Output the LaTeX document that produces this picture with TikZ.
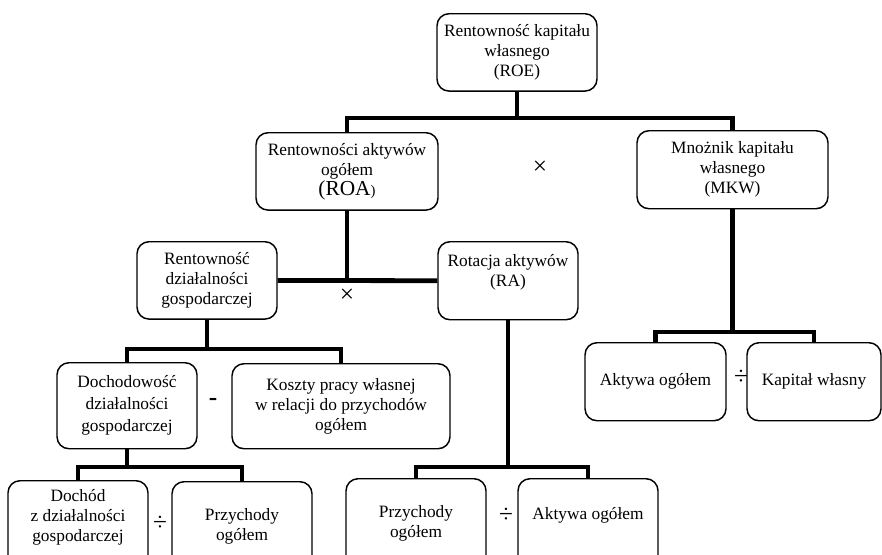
\documentclass[tikz,border=0pt]{standalone}
\usepackage{fontspec}
\setmainfont{Liberation Serif}
\usepackage{tikz}
\usetikzlibrary{calc}

\begin{document}
\begin{tikzpicture}[x=0.75pt,y=-0.75pt,
  box/.style={draw,line width=1.1pt,rounded corners=9pt,align=center,anchor=north,inner sep=2pt,
    font=\fontsize{13}{15}\selectfont,minimum width=105pt,minimum height=58pt},
  link/.style={line width=3.6pt},
  op/.style={font=\fontsize{19}{20}\selectfont,inner sep=0pt}]
\useasboundingbox (0,0) rectangle (882,554);
\clip (0,0) rectangle (882,554);
\node[box,minimum width=120pt] (roe) at (517,13) {Rentowność kapitału\\własnego\\(ROE)};
\node[box,minimum width=136.5pt] (roa) at (347,132) {Rentowności aktywów\\ogółem\\{\fontsize{16}{15}\selectfont(ROA}{\fontsize{11}{15}\selectfont)}};
\node[box,minimum width=143.25pt,minimum height=58.5pt] (mkw) at (732.5,130) {Mnożnik kapitału\\własnego\\(MKW)};
\node[box] (rd) at (207,241) {Rentowność\\działalności\\gospodarczej};
\node[box,minimum height=58.5pt] (ra) at (508,241) {Rotacja aktywów\\(RA)\\\mbox{}};
\node[box,minimum height=64.5pt,font=\fontsize{13}{16.5}\selectfont] (doch) at (127,362) {Dochodowość\\działalności\\gospodarczej};
\node[box,minimum width=163.5pt,minimum height=63.75pt] (koszty) at (341,363) {Koszty pracy własnej\\w relacji do przychodów\\ogółem};
\node[box,minimum width=105.75pt,minimum height=58.5pt] (aktmkw) at (655.5,342) {Aktywa ogółem};
\node[box,minimum width=100.5pt,minimum height=58.5pt] (kapital) at (814,342) {Kapitał własny};
\node[box,minimum height=67.5pt] (dochod) at (78,480) {Dochód\\z działalności\\gospodarczej\\\mbox{}};
\node[box,minimum height=67.5pt] (przychdoch) at (242,481) {Przychody\\ogółem};
\node[box,minimum height=67.5pt] (przychra) at (416,478) {Przychody\\ogółem};
\node[box,minimum height=67.5pt] (aktra) at (588,478) {Aktywa ogółem\\\mbox{}};
\coordinate (j1) at (517,118);
\coordinate (j2) at (347,280);
\coordinate (j3) at (207,349);
\coordinate (j4) at (127,467);
\coordinate (j5) at (508,467);
\coordinate (j6) at (732.5,332);
\draw[link] (roe.south) -- (j1);
\draw[link] (roa.north) |- (j1) -| (mkw.north);
\draw[link] (roa.south) -- (j2);
\draw[link] (rd.east) -- (ra.west);
\draw[link] (rd.south) -- (j3);
\draw[link] (doch.north) |- (j3) -| (koszty.north);
\draw[link] (doch.south) -- (j4);
\draw[link] (dochod.north) |- (j4) -| (przychdoch.north);
\draw[link] (ra.south) -- (j5);
\draw[link] (przychra.north) |- (j5) -| (aktra.north);
\draw[link] (mkw.south) -- (j6);
\draw[link] (aktmkw.north) |- (j6) -| (kapital.north);
\node[op] (razy1) at (540,168) {×};
\node[op] (razy2) at (347,296) {×};
\node[op] (minus) at (213,402) {\bfseries -};
\node[op] (dziel1) at (160,523) {÷};
\node[op] (dziel2) at (506,515) {÷};
\node[op] (dziel3) at (741,377) {÷};
\end{tikzpicture}
\end{document}
